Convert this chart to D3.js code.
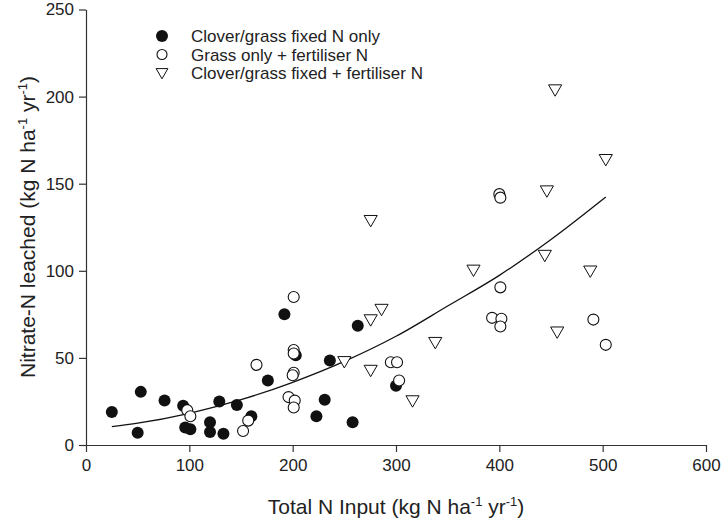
<!DOCTYPE html>
<html>
<head>
<meta charset="utf-8">
<script src="https://cdn.jsdelivr.net/npm/d3@7"></script>
<style>
  html, body { margin: 0; padding: 0; background: #fff; }
  svg { display: block; font-family: "Liberation Sans", Arial, sans-serif; }
</style>
</head>
<body>
<svg id="chart" width="721" height="521"></svg>
<script>
// ---- data ----
const seriesNames = ["Clover/grass fixed N only", "Grass only + fertiliser N", "Clover/grass fixed + fertiliser N"];

const fixedX = [25, 50, 53, 76, 94, 96, 101, 120, 120, 129, 133, 146, 160, 176, 192, 203, 236, 263, 231, 223, 258, 300];
const fixedY = [19, 7, 30.5, 25.5, 22.5, 10, 9, 13, 7.5, 25, 6.5, 23, 16.5, 37, 75, 51.5, 48.5, 68.5, 26, 16.5, 13, 34];

const grassX = [98, 101, 152, 157, 165, 201, 201, 201, 201, 200, 196, 202, 201, 295, 301, 303, 400, 401, 401, 393, 402, 401, 491, 503];
const grassY = [20, 16.5, 8, 14, 46, 85, 54.5, 52.5, 41.5, 40, 27.5, 25.5, 21.5, 47.5, 47.5, 37, 144, 142, 90.5, 73, 72.5, 68, 72, 57.5];

const cloverFertX = [454, 503, 446, 275.5, 444, 375, 488, 286, 275.5, 338, 456, 250, 275.5, 316];
const cloverFertY = [204, 164, 146, 129, 109, 100.5, 100, 78, 72, 59, 65, 48, 43, 25.5];

// fitted curve, points
const curveX = [25, 50, 100, 150, 200, 250, 300, 350, 400, 450, 503];
const curveY = [10.5, 12.5, 18.2, 26, 36, 48, 62.4, 79.8, 97.4, 118, 142.4];

const xTicks = [0, 100, 200, 300, 400, 500, 600];
const yTicks = [0, 50, 100, 150, 200, 250];

// ---- layout ----
const svg = d3.select("#chart");
const x = d3.scaleLinear().domain([0, 600]).range([86, 706]);
const y = d3.scaleLinear().domain([0, 250]).range([445, 9.5]);
const ink = "#222";

// axes
const xAxis = d3.axisBottom(x).tickValues(xTicks).tickSize(7).tickPadding(7).tickSizeOuter(0);
const yAxis = d3.axisLeft(y).tickValues(yTicks).tickSize(7).tickPadding(5).tickSizeOuter(0);

const gx = svg.append("g").attr("transform", `translate(0,${y(0)})`).call(xAxis);
const gy = svg.append("g").attr("transform", `translate(${x(0)},0)`).call(yAxis);
[gx, gy].forEach(g => {
  g.select(".domain").attr("stroke", "#333").attr("stroke-width", 1.2);
  g.selectAll(".tick line").attr("stroke", "#333").attr("stroke-width", 1.2);
  g.selectAll(".tick text").attr("fill", ink).style("font-size", "17px").style("font-family", "'Liberation Sans', Arial, sans-serif");
});

// axis titles
function titled(t) {
  t.append("tspan").attr("dy", -8).style("font-size", "13px").text("-1");
}
const xt = svg.append("text").attr("x", 396).attr("y", 514).attr("text-anchor", "middle")
  .attr("fill", ink).style("font-size", "21px");
xt.append("tspan").text("Total N Input (kg N ha");
titled(xt);
xt.append("tspan").attr("dy", 8).text(" yr");
titled(xt);
xt.append("tspan").attr("dy", 8).text(")");

const yt = svg.append("text").attr("transform", "translate(35,227) rotate(-90)").attr("text-anchor", "middle")
  .attr("fill", ink).style("font-size", "21px");
yt.append("tspan").text("Nitrate-N leached (kg N ha");
titled(yt);
yt.append("tspan").attr("dy", 8).text(" yr");
titled(yt);
yt.append("tspan").attr("dy", 8).text(")");

// fitted curve
const line = d3.line().x(d => x(d[0])).y(d => y(d[1])).curve(d3.curveMonotoneX);
svg.append("path").datum(curveX.map((v, i) => [v, curveY[i]]))
  .attr("d", line).attr("fill", "none").attr("stroke", "#111").attr("stroke-width", 1.3);

// markers
const r = 6;
const tri = d3.symbol().type(d3.symbolTriangle).size(75);

svg.append("g").selectAll("circle").data(fixedX.map((v, i) => [v, fixedY[i]])).join("circle")
  .attr("cx", d => x(d[0])).attr("cy", d => y(d[1])).attr("r", r).attr("fill", "#111");

svg.append("g").selectAll("circle").data(grassX.map((v, i) => [v, grassY[i]])).join("circle")
  .attr("cx", d => x(d[0])).attr("cy", d => y(d[1])).attr("r", r - 0.5)
  .attr("fill", "#fff").attr("stroke", "#111").attr("stroke-width", 1.1);

svg.append("g").selectAll("path").data(cloverFertX.map((v, i) => [v, cloverFertY[i]])).join("path")
  .attr("d", tri).attr("transform", d => `translate(${x(d[0])},${y(d[1]) - 1}) rotate(180)`)
  .attr("fill", "#fff").attr("stroke", "#111").attr("stroke-width", 1.0);

// legend
const lg = svg.append("g");
const lx = 162, ly0 = 36, ldy = 18.5;
lg.append("circle").attr("cx", lx).attr("cy", ly0).attr("r", r).attr("fill", "#111");
lg.append("circle").attr("cx", lx).attr("cy", ly0 + ldy).attr("r", 5).attr("fill", "#fff").attr("stroke", "#111").attr("stroke-width", 1.1);
lg.append("path").attr("d", d3.symbol().type(d3.symbolTriangle).size(60))
  .attr("transform", `translate(${lx},${ly0 + 2 * ldy - 1}) rotate(180)`)
  .attr("fill", "#fff").attr("stroke", "#111").attr("stroke-width", 1.0);
seriesNames.forEach((s, i) => {
  lg.append("text").attr("x", 191).attr("y", ly0 + i * ldy + 6).attr("fill", ink)
    .style("font-size", "17px").text(s);
});
</script>
</body>
</html>
